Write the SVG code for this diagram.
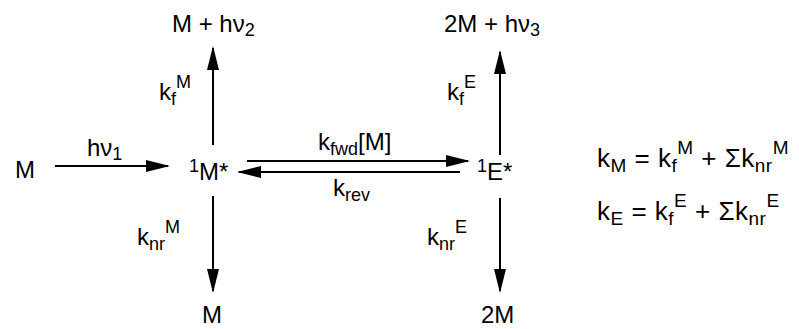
<svg xmlns="http://www.w3.org/2000/svg" width="799" height="329" viewBox="0 0 799 329">
<defs>
<style>
text{font-family:"Liberation Sans",Arial,Helvetica,sans-serif;font-size:24px;fill:#000}
.s{font-size:18px}
.eq{font-size:26px;letter-spacing:0.5px}
.eq .s{font-size:19px}
.c line{stroke:#000;stroke-width:2;marker-end:url(#ah)}
</style>
<marker id="ah" markerUnits="userSpaceOnUse" markerWidth="26" markerHeight="12" refX="22" refY="6" orient="auto"><path d="M0,0 L24,6 L0,12 z" fill="#000"/></marker>
</defs>
<rect width="799" height="329" fill="#fff"/>
<g id="connectors" class="c">
<line x1="55" y1="166" x2="168" y2="166"/>
<line x1="213" y1="145" x2="213" y2="48"/>
<line x1="500" y1="155" x2="500" y2="52"/>
<line x1="247" y1="161" x2="468" y2="161"/>
<line x1="460" y1="172" x2="239" y2="172"/>
<line x1="213" y1="196" x2="213" y2="291"/>
<line x1="500" y1="198" x2="500" y2="291"/>
</g>
<g id="label-hv1"><text x="87" y="156">hν<tspan class="s" dy="4">1</tspan></text></g>
<g id="label-kfM"><text x="159" y="100">k<tspan class="s" dy="5">f</tspan><tspan class="s" dy="-17">M</tspan></text></g>
<g id="label-kfE"><text x="447" y="100">k<tspan class="s" dy="5">f</tspan><tspan class="s" dy="-17">E</tspan></text></g>
<g id="label-kfwd"><text x="318" y="150">k<tspan class="s" dy="5">fwd</tspan><tspan dy="-5">[M]</tspan></text></g>
<g id="label-krev"><text x="333" y="196">k<tspan class="s" dy="5">rev</tspan></text></g>
<g id="label-knrM"><text x="137" y="245">k<tspan class="s" dy="5">nr</tspan><tspan class="s" dy="-17">M</tspan></text></g>
<g id="label-knrE"><text x="427" y="245">k<tspan class="s" dy="5">nr</tspan><tspan class="s" dy="-17">E</tspan></text></g>
<g id="node-M"><text x="15" y="178">M</text></g>
<g id="node-1M"><text x="189" y="180"><tspan class="s" dy="-8">1</tspan><tspan dy="8">M*</tspan></text></g>
<g id="node-1E"><text x="477" y="180"><tspan class="s" dy="-8">1</tspan><tspan dy="8">E*</tspan></text></g>
<g id="node-Mhv2"><text x="172" y="32">M + hν<tspan class="s" dy="4">2</tspan></text></g>
<g id="node-2Mhv3"><text x="444" y="32">2M + hν<tspan class="s" dy="4">3</tspan></text></g>
<g id="node-Mbottom"><text x="202" y="323">M</text></g>
<g id="node-2M"><text x="481" y="323">2M</text></g>
<g id="eq-kM"><text class="eq" x="597" y="167">k<tspan class="s" dy="5">M</tspan><tspan dy="-5"> = k</tspan><tspan class="s" dy="5">f</tspan><tspan class="s" dy="-18">M</tspan><tspan dy="13"> + Σk</tspan><tspan class="s" dy="5">nr</tspan><tspan class="s" dy="-18">M</tspan></text></g>
<g id="eq-kE"><text class="eq" x="597" y="220">k<tspan class="s" dy="5">E</tspan><tspan dy="-5"> = k</tspan><tspan class="s" dy="5">f</tspan><tspan class="s" dy="-18">E</tspan><tspan dy="13"> + Σk</tspan><tspan class="s" dy="5">nr</tspan><tspan class="s" dy="-18">E</tspan></text></g>
</svg>
